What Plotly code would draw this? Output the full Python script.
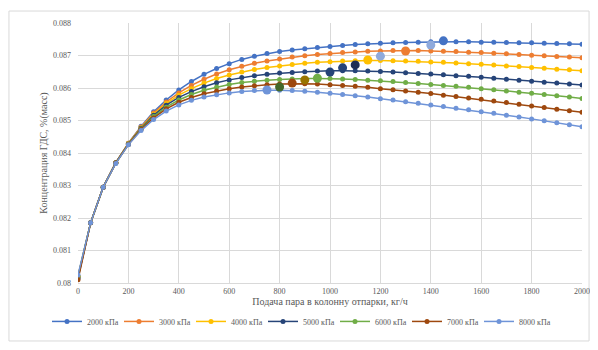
import plotly.graph_objects as go

x_vals = list(range(0, 2001, 50))

series_names = ["2000 кПа", "3000 кПа", "4000 кПа", "5000 кПа", "6000 кПа", "7000 кПа", "8000 кПа"]

y_2000 = [0.08020, 0.08185, 0.08295, 0.08370, 0.08430, 0.08482, 0.08527, 0.08563, 0.08594, 0.08620,
          0.08642, 0.08660, 0.08675, 0.08688, 0.08698, 0.08706, 0.08712, 0.08717, 0.08721, 0.08725,
          0.08728, 0.08731, 0.08734, 0.08736, 0.08738, 0.08739, 0.08740, 0.08741, 0.08742, 0.08742,
          0.08742, 0.08742, 0.08741, 0.08741, 0.08740, 0.08739, 0.08739, 0.08738, 0.08737, 0.08736,
          0.08735]
y_3000 = [0.08020, 0.08185, 0.08295, 0.08370, 0.08430, 0.08480, 0.08523, 0.08557, 0.08585, 0.08608,
          0.08627, 0.08643, 0.08656, 0.08667, 0.08676, 0.08683, 0.08689, 0.08695, 0.08699, 0.08703,
          0.08706, 0.08709, 0.08711, 0.08713, 0.08714, 0.08715, 0.08715, 0.08715, 0.08714, 0.08713,
          0.08712, 0.08710, 0.08709, 0.08707, 0.08705, 0.08703, 0.08701, 0.08699, 0.08697, 0.08695,
          0.08693]
y_4000 = [0.08020, 0.08185, 0.08295, 0.08370, 0.08429, 0.08478, 0.08519, 0.08552, 0.08578, 0.08598,
          0.08615, 0.08629, 0.08640, 0.08649, 0.08657, 0.08663, 0.08668, 0.08672, 0.08676, 0.08679,
          0.08681, 0.08683, 0.08684, 0.08685, 0.08685, 0.08684, 0.08683, 0.08682, 0.08680, 0.08679,
          0.08677, 0.08675, 0.08673, 0.08671, 0.08668, 0.08666, 0.08663, 0.08661, 0.08658, 0.08656,
          0.08653]
y_5000 = [0.08015, 0.08185, 0.08295, 0.08370, 0.08428, 0.08476, 0.08516, 0.08547, 0.08571, 0.08589,
          0.08604, 0.08616, 0.08625, 0.08632, 0.08638, 0.08642, 0.08646, 0.08648, 0.08650, 0.08652,
          0.08653, 0.08653, 0.08653, 0.08652, 0.08651, 0.08649, 0.08647, 0.08645, 0.08643, 0.08641,
          0.08638, 0.08636, 0.08633, 0.08630, 0.08627, 0.08624, 0.08621, 0.08618, 0.08615, 0.08612,
          0.08609]
y_6000 = [0.08020, 0.08185, 0.08295, 0.08369, 0.08427, 0.08474, 0.08512, 0.08541, 0.08563, 0.08580,
          0.08593, 0.08603, 0.08611, 0.08617, 0.08621, 0.08624, 0.08626, 0.08628, 0.08629, 0.08629,
          0.08629, 0.08628, 0.08626, 0.08624, 0.08622, 0.08620, 0.08617, 0.08614, 0.08611, 0.08608,
          0.08605, 0.08602, 0.08598, 0.08595, 0.08591, 0.08587, 0.08584, 0.08580, 0.08576, 0.08572,
          0.08568]
y_7000 = [0.08010, 0.08185, 0.08295, 0.08369, 0.08426, 0.08472, 0.08508, 0.08536, 0.08556, 0.08571,
          0.08582, 0.08591, 0.08598, 0.08603, 0.08607, 0.08610, 0.08612, 0.08613, 0.08613, 0.08612,
          0.08610, 0.08608, 0.08605, 0.08602, 0.08598, 0.08595, 0.08591, 0.08587, 0.08583, 0.08578,
          0.08574, 0.08569, 0.08565, 0.08560, 0.08555, 0.08550, 0.08545, 0.08540, 0.08535, 0.08530,
          0.08525]
y_8000 = [0.08025, 0.08185, 0.08295, 0.08368, 0.08425, 0.08469, 0.08503, 0.08529, 0.08548, 0.08562,
          0.08572, 0.08579, 0.08585, 0.08589, 0.08592, 0.08593, 0.08593, 0.08592, 0.08590, 0.08587,
          0.08584, 0.08580, 0.08576, 0.08572, 0.08567, 0.08563, 0.08558, 0.08553, 0.08548, 0.08543,
          0.08538, 0.08533, 0.08527, 0.08522, 0.08516, 0.08511, 0.08505, 0.08499, 0.08493, 0.08487,
          0.08481]

# enlarged highlight points
hl_x = [750, 800, 850, 900, 950, 1000, 1050, 1100, 1150, 1200, 1300, 1400, 1450]
hl_y = [0.08594, 0.08603, 0.08615, 0.08625, 0.08630, 0.08649, 0.08662, 0.08671, 0.08686, 0.08698,
        0.08714, 0.08732, 0.08745]

y_ticks = [0.080, 0.081, 0.082, 0.083, 0.084, 0.085, 0.086, 0.087, 0.088]
y_tick_text = ["0.08", "0.081", "0.082", "0.083", "0.084", "0.085", "0.086", "0.087", "0.088"]
x_ticks = list(range(0, 2001, 200))

colors = ["#4472C4", "#ED7D31", "#FFC000", "#264478", "#70AD47", "#9E480E", "#6F94D8"]
hl_colors = ["#6F94D8", "#43682B", "#9E480E", "#997300", "#70AD47", "#264478", "#264478",
             "#1F2F55", "#FFC000", "#8FAADC", "#ED7D31", "#8FAADC", "#4472C4"]

all_y = [y_2000, y_3000, y_4000, y_5000, y_6000, y_7000, y_8000]

FONT = "Liberation Serif"

fig = go.Figure()
for name, ys, c in zip(series_names, all_y, colors):
    fig.add_trace(go.Scatter(
        x=x_vals, y=ys, name=name, mode="lines+markers",
        line=dict(color=c, width=1.5),
        marker=dict(color=c, size=5),
    ))

fig.add_trace(go.Scatter(
    x=hl_x, y=hl_y, mode="markers", showlegend=False,
    marker=dict(color=hl_colors, size=9),
))

fig.update_layout(
    width=582, height=334,
    margin=dict(l=70, r=8, t=15, b=59, autoexpand=False),
    paper_bgcolor="white", plot_bgcolor="white",
    font=dict(family=FONT, size=9, color="#595959"),
    showlegend=True,
    legend=dict(orientation="h", xref="container", x=0.5, xanchor="center",
                yref="container", y=0.105, yanchor="top",
                font=dict(size=8, color="#595959", family=FONT),
                itemwidth=30, tracegroupgap=0, entrywidth=27, entrywidthmode="pixels"),
    xaxis=dict(range=[0, 2000], tickvals=x_ticks, showgrid=True, gridcolor="#D9D9D9",
               gridwidth=1, zeroline=False, showline=True, linecolor="#D9D9D9",
               tickfont=dict(size=8, color="#595959"), automargin=False,
               title=dict(text="Подача пара в колонну отпарки, кг/ч",
                          font=dict(size=10, color="#595959"), standoff=2)),
    yaxis=dict(range=[0.080, 0.088], tickvals=y_ticks, ticktext=y_tick_text, showgrid=True,
               gridcolor="#D9D9D9", gridwidth=1, zeroline=False, showline=False,
               tickfont=dict(size=8, color="#595959"), ticks="", ticklen=0, automargin=False,
               ticklabelstandoff=6,
               title=dict(text="Концентрация ГДС, %(масс)",
                          font=dict(size=10, color="#595959"), standoff=3)),
    shapes=[dict(type="rect", xref="paper", yref="paper", x0=-0.137, x1=1.014, y0=-0.223, y1=1.046,
                 line=dict(color="#D9D9D9", width=1), fillcolor="rgba(0,0,0,0)", layer="below")],
)

fig.write_html("out.html")
